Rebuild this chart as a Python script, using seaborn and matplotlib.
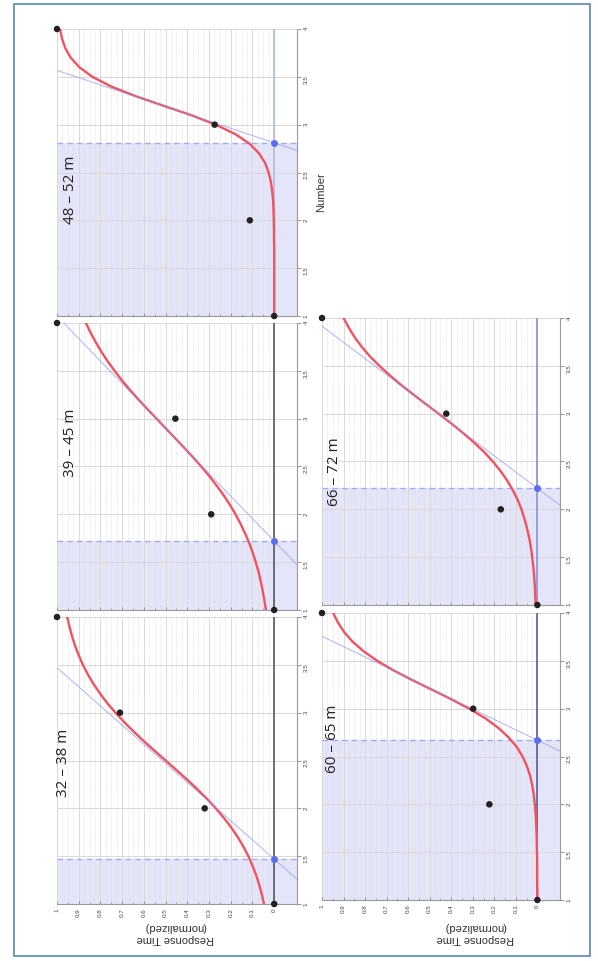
# Psychometric-style panels: normalized response time vs. number, one panel per distance band.
# The whole figure is drawn turned a quarter turn (Number runs upward, response runs right-to-left).

import matplotlib.pyplot as plt
import matplotlib.patches as mpatches
from matplotlib.ticker import FuncFormatter
import seaborn as sns

# Distance bands, one per panel
panel_labels = ["32 – 38 m", "39 – 45 m", "48 – 52 m", "60 – 65 m", "66 – 72 m"]

# Measured points (Number -> normalized response time)
numbers = [1, 2, 3, 4]
resp_32_38 = [0.0, 0.32, 0.71, 1.0]
resp_39_45 = [0.0, 0.29, 0.455, 1.0]
resp_48_52 = [0.0, 0.112, 0.274, 1.0]
resp_60_65 = [0.0, 0.223, 0.298, 1.0]
resp_66_72 = [0.0, 0.17, 0.423, 1.0]

# Fitted curve, every 0.1 along Number
curve_numbers = [1.0, 1.1, 1.2, 1.3, 1.4, 1.5, 1.6, 1.7, 1.8, 1.9, 2.0,
                 2.1, 2.2, 2.3, 2.4, 2.5, 2.6, 2.7, 2.8, 2.9, 3.0,
                 3.1, 3.2, 3.3, 3.4, 3.5, 3.6, 3.7, 3.8, 3.9, 4.0]
curve_32_38 = [0.047, 0.057, 0.069, 0.083, 0.100, 0.119, 0.142, 0.168, 0.198, 0.232, 0.269,
               0.310, 0.354, 0.401, 0.450, 0.500, 0.550, 0.599, 0.646, 0.690, 0.731,
               0.769, 0.802, 0.832, 0.858, 0.881, 0.900, 0.917, 0.931, 0.943, 0.953]
curve_39_45 = [0.038, 0.045, 0.053, 0.062, 0.072, 0.085, 0.099, 0.115, 0.134, 0.155, 0.178,
               0.204, 0.233, 0.265, 0.299, 0.336, 0.375, 0.416, 0.458, 0.500, 0.542,
               0.584, 0.625, 0.664, 0.701, 0.735, 0.767, 0.796, 0.822, 0.846, 0.867]
curve_48_52 = [0.000, 0.000, 0.000, 0.000, 0.000, 0.000, 0.000, 0.000, 0.001, 0.001, 0.002,
               0.003, 0.005, 0.009, 0.015, 0.026, 0.042, 0.070, 0.113, 0.178, 0.269,
               0.383, 0.513, 0.641, 0.752, 0.837, 0.897, 0.937, 0.962, 0.977, 0.986]
curve_60_65 = [0.000, 0.000, 0.001, 0.001, 0.001, 0.002, 0.003, 0.004, 0.006, 0.008, 0.012,
               0.017, 0.024, 0.034, 0.049, 0.069, 0.096, 0.134, 0.182, 0.242, 0.317,
               0.401, 0.491, 0.582, 0.668, 0.744, 0.807, 0.858, 0.897, 0.926, 0.948]
curve_66_72 = [0.008, 0.010, 0.012, 0.015, 0.019, 0.024, 0.030, 0.038, 0.048, 0.060, 0.074,
               0.092, 0.114, 0.140, 0.171, 0.207, 0.248, 0.295, 0.346, 0.401, 0.459,
               0.518, 0.576, 0.633, 0.685, 0.734, 0.778, 0.816, 0.849, 0.876, 0.900]

# Threshold (where the tangent meets 0) and slope of the tangent (response per unit Number)
thresholds = [1.47, 1.72, 2.81, 2.67, 2.22]
tangent_slopes = [0.50, 0.425, 1.32, 0.92, 0.59]

# Tick values
number_ticks = [1, 1.5, 2, 2.5, 3, 3.5, 4]
resp_ticks = [0, 0.1, 0.2, 0.3, 0.4, 0.5, 0.6, 0.7, 0.8, 0.9, 1.0]
resp_minor = [0.05, 0.15, 0.25, 0.35, 0.45, 0.55, 0.65, 0.75, 0.85, 0.95]

all_resp = [resp_32_38, resp_39_45, resp_48_52, resp_60_65, resp_66_72]
all_curves = [curve_32_38, curve_39_45, curve_48_52, curve_60_65, curve_66_72]

# ---- layout (pixels of the 598 x 961 picture) ----
W, H = 598, 961
boxes = [(57, 617, 297, 904), (57, 323, 297, 610), (57, 29, 297, 316),
         (322, 613, 560, 900), (322, 318, 560, 605)]
title_pos = [(0.97, 2.47), (0.94, 2.75), (0.94, 2.32), (0.95, 2.68), (0.94, 2.39)]
zero_colors = ["#55556a", "#55556a", "#b4b8de", "#5c5c9c", "#8a90d6"]
show_resp_labels = [True, False, False, True, False]

sns.set_theme(style="white")
plt.rcParams["font.family"] = ["Liberation Sans", "DejaVu Sans"]

fig = plt.figure(figsize=(W / 100, H / 100), dpi=100)
fmt = FuncFormatter(lambda v, p: "%g" % v)

for i in range(5):
    x0, y0, x1, y1 = boxes[i]
    ax = fig.add_axes([x0 / W, 1 - y1 / H, (x1 - x0) / W, (y1 - y0) / H])
    ax.set_xlim(1.0, -0.105)
    ax.set_ylim(1, 4)

    # grid: solid majors, dotted minors along the response axis
    ax.set_axisbelow(True)
    ax.set_xticks(resp_ticks)
    ax.set_xticks(resp_minor, minor=True)
    ax.set_yticks(number_ticks)
    ax.grid(True, which="major", color="#d9d9d9", lw=0.7)
    for k in range(40):
        v = k * 0.025
        if k % 4 != 0:
            ax.axvline(v, color="#d4d4d4", lw=0.5, ls=(0, (1.2, 1.8)), zorder=0.6)

    thr = thresholds[i]
    slope = tangent_slopes[i]
    # shaded region below the threshold
    ax.axhspan(1, thr, color="#9999ee", alpha=0.25, lw=0, zorder=0.3)
    ax.axhline(thr, color="#a3abf0", lw=1.0, ls=(0, (4, 3)), zorder=2)
    ax.axvline(0, color=zero_colors[i], lw=1.2, zorder=2.5)

    # fitted curve and its tangent
    sns.lineplot(x=all_curves[i], y=curve_numbers, sort=False, estimator=None,
                 color="#f2525f", lw=1.7, ax=ax, zorder=3)
    ax.axline((0, thr), (1, thr + 1 / slope), color="#8d94ee", lw=0.7, alpha=0.7, zorder=4)

    # threshold point and measured points
    ax.scatter([0], [thr], s=16, color="#5a6ef0", zorder=5, clip_on=False)
    sns.scatterplot(x=all_resp[i], y=numbers, color="#222222", s=22, edgecolor="none",
                    zorder=6, clip_on=False, ax=ax)

    # axes styling
    for side in ["top", "left"]:
        ax.spines[side].set_visible(False)
    for side in ["right", "bottom"]:
        ax.spines[side].set_color("#9a9a9a")
        ax.spines[side].set_linewidth(0.8)
    ax.yaxis.tick_right()
    ax.yaxis.set_major_formatter(fmt)
    ax.xaxis.set_major_formatter(fmt)
    ax.tick_params(axis="y", which="major", right=True, left=False, length=3, width=0.6,
                   color="#888888", labelsize=4.5, labelrotation=90, pad=2, labelcolor="#444444")
    ax.tick_params(axis="x", which="both", bottom=True, direction="in", length=2.5, width=0.6,
                   color="#888888", labelsize=4.5, labelrotation=90, pad=3,
                   labelbottom=show_resp_labels[i], labelcolor="#444444")
    ax.tick_params(axis="x", which="minor", length=1.5)
    ax.set_xlabel("")
    ax.set_ylabel("")

    tx, ty = title_pos[i]
    ax.text(tx, ty, panel_labels[i], rotation=90, ha="center", va="center",
            fontsize=11, family=["Open Sans", "DejaVu Sans"], color="#222222")

# axis titles, turned with the figure
for cx in [175, 475]:
    fig.text(cx / W, 1 - 933 / H, "Response Time\n(normalized)", rotation=180,
             ha="center", va="center", fontsize=8, color="#333333", linespacing=1.15)
fig.text(321 / W, 1 - 192 / H, "Number", rotation=90, ha="center", va="center",
         fontsize=8, color="#333333")

# outer frame
fig.add_artist(mpatches.Rectangle((14 / W, 1 - 956 / H), 576 / W, 952 / H,
                                  transform=fig.transFigure, fill=False,
                                  edgecolor="#5a86be", lw=1.2))

fig.savefig("out.png", dpi=100)
